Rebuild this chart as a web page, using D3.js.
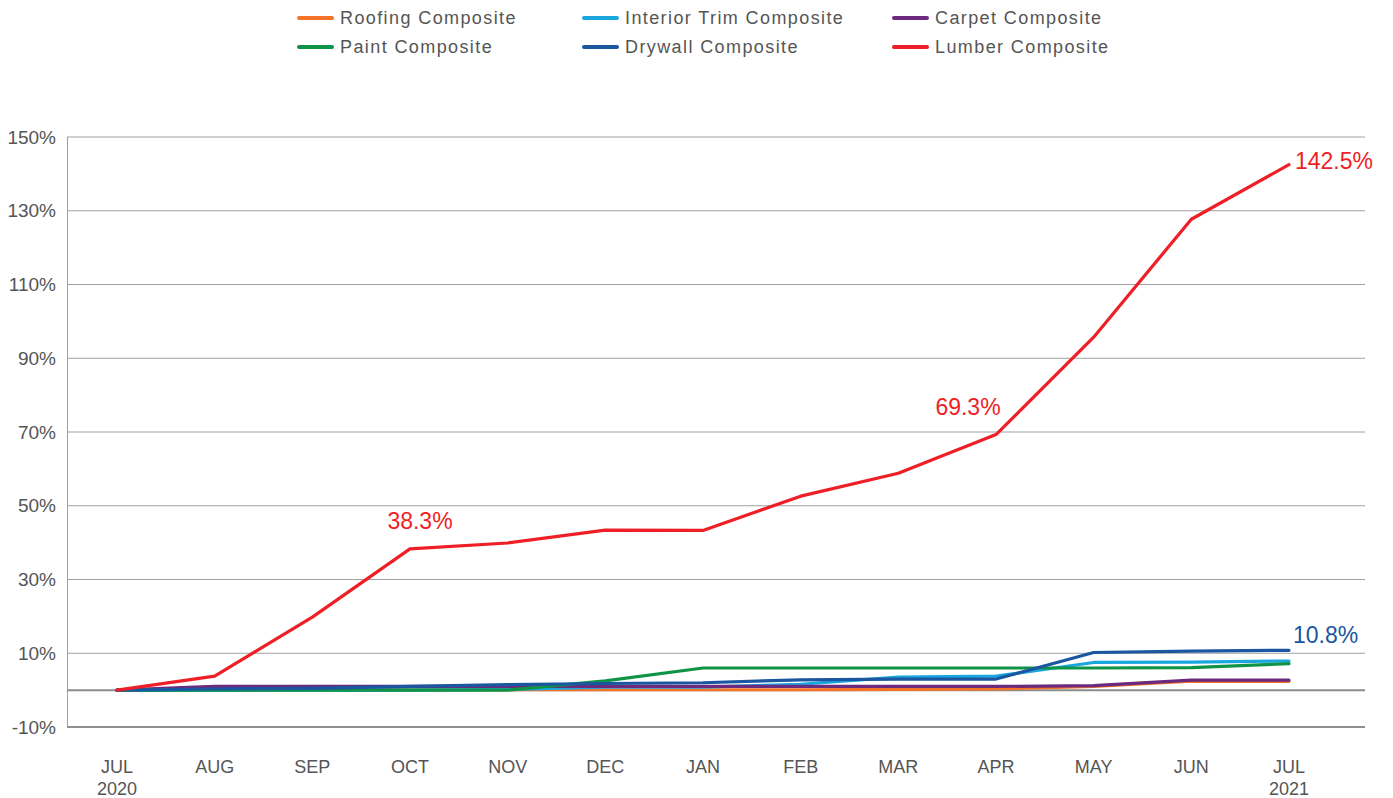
<!DOCTYPE html>
<html>
<head>
<meta charset="utf-8">
<script src="https://cdn.jsdelivr.net/npm/d3@7"></script>
<style>
  body { margin: 0; background: #fff; }
  text { font-family: "Liberation Sans", Arial, sans-serif; }
</style>
</head>
<body>
<script>
// data
var months = ["JUL", "AUG", "SEP", "OCT", "NOV", "DEC", "JAN", "FEB", "MAR", "APR", "MAY", "JUN", "JUL"];
var years = ["2020", "", "", "", "", "", "", "", "", "", "", "", "2021"];
var yTicks = [-10, 10, 30, 50, 70, 90, 110, 130, 150];

var roofing  = [0, 0.1, 0.1, 0.1, 0.1, 0.1, 0.1, 0.1, 0.2, 0.3, 1.0, 2.4, 2.4];
var trim     = [0, 0, 0, 0, 0.2, 0.8, 0.8, 1.6, 3.5, 3.8, 7.5, 7.6, 7.9];
var carpet   = [0, 1.0, 1.0, 1.0, 1.0, 1.0, 1.0, 1.0, 1.0, 1.0, 1.2, 2.7, 2.7];
var paint    = [0, 0, 0, 0, 0, 2.5, 6.0, 6.0, 6.0, 6.0, 6.0, 6.1, 7.2];
var drywall  = [0, 0.3, 0.5, 1.0, 1.5, 1.8, 2.0, 2.8, 3.0, 3.0, 10.2, 10.6, 10.8];
var lumber   = [0, 3.8, 19.8, 38.3, 39.9, 43.4, 43.3, 52.6, 58.8, 69.3, 95.7, 127.7, 142.5];

var seriesNames = ["Roofing Composite", "Interior Trim Composite", "Carpet Composite",
                   "Paint Composite", "Drywall Composite", "Lumber Composite"];
var seriesColors = ["#f37329", "#1aa7e0", "#6b2a7d", "#0f9447", "#1a57a0", "#ee1f26"];
var seriesValues = [roofing, trim, carpet, paint, drywall, lumber];

// dx/dy = label offset from the point
var callouts = [
  {s: 5, i: 3, label: "38.3%", dx: 10, dy: -20, anchor: "middle"},
  {s: 5, i: 9, label: "69.3%", dx: -28, dy: -20, anchor: "middle"},
  {s: 5, i: 12, label: "142.5%", dx: 6, dy: 4, anchor: "start"},
  {s: 4, i: 12, label: "10.8%", dx: 4, dy: -7, anchor: "start"}
];

var W = 1393, H = 798;
var plotL = 67, plotR = 1365, plotT = 137, plotB = 727;

var svg = d3.select("body").append("svg")
  .attr("width", W)
  .attr("height", H);

var x = d3.scalePoint()
  .domain(d3.range(months.length))
  .range([117, 1289]);

var y = d3.scaleLinear()
  .domain([-10, 150])
  .range([plotB, plotT]);

// gridlines
svg.append("g").selectAll("line")
  .data(yTicks.filter(function(d){ return d !== -10; }))
  .enter().append("line")
  .attr("x1", plotL).attr("x2", plotR)
  .attr("y1", function(d){ return y(d); })
  .attr("y2", function(d){ return y(d); })
  .style("stroke", "#a0a0a0")
  .style("stroke-width", 1);

// left axis line
svg.append("line")
  .attr("x1", plotL + 0.5).attr("x2", plotL + 0.5)
  .attr("y1", plotT).attr("y2", plotB)
  .style("stroke", "#a0a0a0");

// bottom line
svg.append("line")
  .attr("x1", plotL).attr("x2", plotR)
  .attr("y1", plotB).attr("y2", plotB)
  .style("stroke", "#909090")
  .style("stroke-width", 2);

// zero line
svg.append("line")
  .attr("x1", plotL).attr("x2", plotR)
  .attr("y1", y(0)).attr("y2", y(0))
  .style("stroke", "#8c8c8c")
  .style("stroke-width", 2);

// y tick labels
svg.append("g").selectAll("text")
  .data(yTicks)
  .enter().append("text")
  .attr("x", 56)
  .attr("y", function(d){ return y(d); })
  .attr("dy", "0.35em")
  .attr("text-anchor", "end")
  .style("font-size", "19px")
  .style("fill", "#555")
  .text(function(d){ return d + "%"; });

// x tick labels
svg.append("g").selectAll("text")
  .data(months)
  .enter().append("text")
  .attr("x", function(d, i){ return x(i); })
  .attr("y", 773)
  .attr("text-anchor", "middle")
  .style("font-size", "18px")
  .style("fill", "#555")
  .text(function(d){ return d; });

svg.append("g").selectAll("text")
  .data(years)
  .enter().append("text")
  .attr("x", function(d, i){ return x(i); })
  .attr("y", 795)
  .attr("text-anchor", "middle")
  .style("font-size", "18px")
  .style("fill", "#555")
  .text(function(d){ return d; });

// lines
var line = d3.line()
  .x(function(d, i){ return x(i); })
  .y(function(d){ return y(d); });

svg.append("g").selectAll("path")
  .data(seriesValues)
  .enter().append("path")
  .attr("d", line)
  .style("fill", "none")
  .style("stroke", function(d, i){ return seriesColors[i]; })
  .style("stroke-width", 3.2)
  .style("stroke-linejoin", "round")
  .style("stroke-linecap", "round");

// callouts
svg.append("g").selectAll("text")
  .data(callouts)
  .enter().append("text")
  .attr("x", function(d){ return x(d.i) + d.dx; })
  .attr("y", function(d){ return y(seriesValues[d.s][d.i]) + d.dy; })
  .attr("text-anchor", function(d){ return d.anchor; })
  .style("font-size", "23px")
  .style("fill", function(d){ return seriesColors[d.s]; })
  .text(function(d){ return d.label; });

// legend
var legX = [298, 583, 893];
var legY = [18, 47];
var leg = svg.append("g").selectAll("g")
  .data(seriesNames)
  .enter().append("g")
  .attr("transform", function(d, i){
    return "translate(" + legX[i % 3] + "," + legY[Math.floor(i / 3)] + ")";
  });

leg.append("line")
  .attr("x1", 1).attr("x2", 34)
  .attr("y1", 0).attr("y2", 0)
  .style("stroke", function(d, i){ return seriesColors[i]; })
  .style("stroke-width", 4)
  .style("stroke-linecap", "round");

leg.append("text")
  .attr("x", 42)
  .attr("dy", "0.35em")
  .style("font-size", "18px")
  .style("fill", "#555")
  .style("letter-spacing", "1.4px")
  .text(function(d){ return d; });
</script>
</body>
</html>
